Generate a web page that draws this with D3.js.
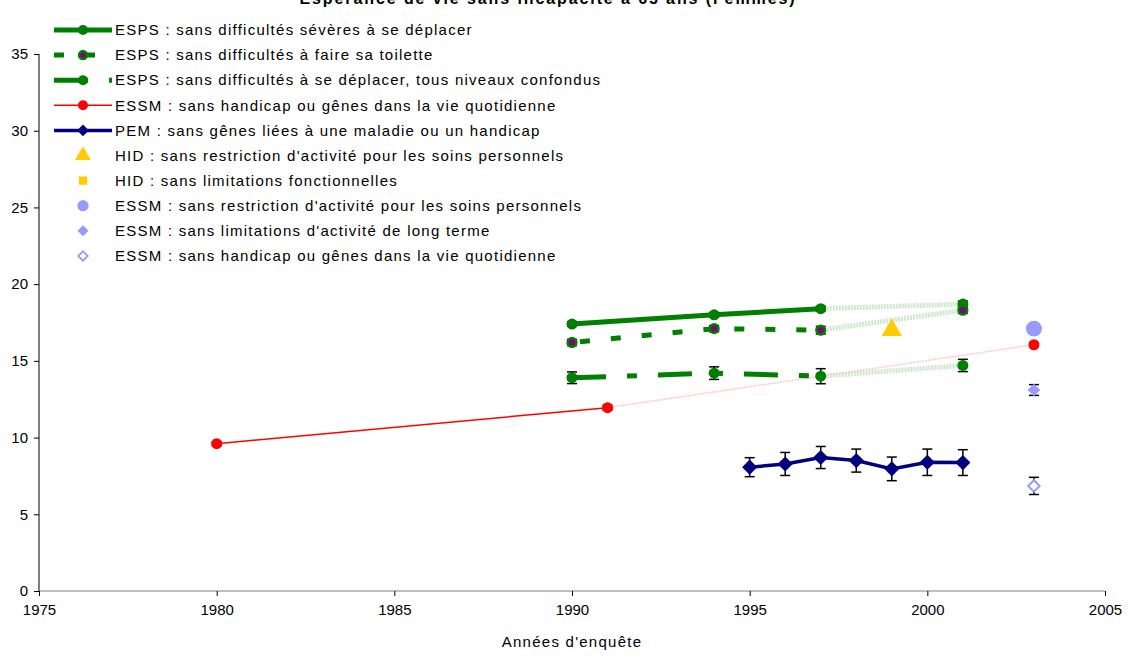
<!DOCTYPE html>
<html>
<head>
<meta charset="utf-8">
<script src="https://cdn.jsdelivr.net/npm/d3@7"></script>
<style>
  html, body { margin: 0; padding: 0; background: #fff; }
  svg { display: block; font-family: "Liberation Sans", Arial, sans-serif; }
</style>
</head>
<body>
<svg id="chart" width="1134" height="666"></svg>
<script>
// ---- Data ----
const title = "Espérance de vie sans incapacité à 65 ans (Femmes)";
const xTitle = "Années d'enquête";
const xTicks = [1975, 1980, 1985, 1990, 1995, 2000, 2005];
const yTicks = [0, 5, 10, 15, 20, 25, 30, 35];

// ESPS surveys (last year is linked by a faint line only)
const espsYears = [1990, 1994, 1997, 2001];
const espsSevere = [17.4, 18.0, 18.4, 18.7];
const espsSevereErr = [0.15, 0.15, 0.15, 0.2];
const espsToilette = [16.2, 17.1, 17.0, 18.3];
const espsToiletteErr = [0.2, 0.2, 0.25, 0.2];
const espsAll = [13.9, 14.2, 14.0, 14.7];
const espsAllErr = [0.38, 0.41, 0.49, 0.4];

// ESSM: sans handicap ou gênes (last segment faint)
const essmYears = [1980, 1991, 2003];
const essmValues = [9.6, 11.95, 16.05];
const essmErr = [0.12, 0.15, 0.12];

// PEM
const pemYears = [1995, 1996, 1997, 1998, 1999, 2000, 2001];
const pemValues = [8.07, 8.28, 8.7, 8.5, 7.96, 8.39, 8.37];
const pemErr = [0.62, 0.75, 0.72, 0.75, 0.77, 0.86, 0.84];

// Single-year estimates
const hidYears = [1999];
const hidSoins = [17.0];
const essmSoinsYears = [2003];
const essmSoins = [17.1];
const essmLongYears = [2003];
const essmLong = [13.1];
const essmLongErr = [0.35];
const essmGenesYears = [2003];
const essmGenes = [6.85];
const essmGenesErr = [0.56];

const legendLabels = [
  "ESPS : sans difficultés sévères à se déplacer",
  "ESPS : sans difficultés à faire sa toilette",
  "ESPS : sans difficultés à se déplacer, tous niveaux confondus",
  "ESSM : sans handicap ou gênes dans la vie quotidienne",
  "PEM : sans gênes liées à une maladie ou un handicap",
  "HID : sans restriction d'activité pour les soins personnels",
  "HID : sans limitations fonctionnelles",
  "ESSM : sans restriction d'activité pour les soins personnels",
  "ESSM : sans limitations d'activité de long terme",
  "ESSM : sans handicap ou gênes dans la vie quotidienne"
];

// ---- Layout ----
const svg = d3.select("#chart");
const x = d3.scaleLinear().domain([1975, 2005]).range([39, 1105]);
const y = d3.scaleLinear().domain([0, 35]).range([591, 54]);

const GREEN = "#008000", FAINT_GREEN = "#cfe7cf", RED = "#ff0000", PINK = "#ffc6c6",
      NAVY = "#000080", GOLD = "#ffcc00", LAV = "#9999ff", PURPLE = "#800080";
const TEXT_SPACING = "1.25px";

// Title (partly above the visible area)
svg.append("text").attr("x", 548).attr("y", 4).attr("text-anchor", "middle")
  .attr("font-size", 16).attr("font-weight", "bold").attr("letter-spacing", "1.9px").text(title);

// Axes
const yAxis = d3.axisLeft(y).tickValues(yTicks).tickSize(5).tickPadding(6).tickFormat(d3.format("d"));
const gy = svg.append("g").attr("transform", `translate(${x(1975)},0)`).call(yAxis);
gy.select(".domain").attr("stroke", "#000").attr("d", `M0,${y(0)}V${y(35)}`);
gy.selectAll("text").attr("font-size", 15).attr("fill", "#000").attr("font-family", "Liberation Sans, Arial, sans-serif");

const xAxis = d3.axisBottom(x).tickValues(xTicks).tickSize(5).tickPadding(8).tickFormat(d3.format("d"));
const gx = svg.append("g").attr("transform", `translate(0,${y(0)})`).call(xAxis);
gx.select(".domain").attr("stroke", "#808080").attr("d", `M${x(1975)},0H${x(2005)}`);
gx.selectAll("line").attr("stroke", "#000");
gx.selectAll("text").attr("font-size", 15).attr("fill", "#000").attr("font-family", "Liberation Sans, Arial, sans-serif");

svg.append("text").attr("x", x(1990)).attr("y", 647).attr("text-anchor", "middle")
  .attr("font-size", 15).attr("letter-spacing", TEXT_SPACING).text(xTitle);

const line = d3.line().x(d => x(d[0])).y(d => y(d[1]));
const zip = (a, b) => a.map((v, i) => [v, b[i]]);

const plot = svg.append("g");

// Faint links to later surveys
[espsSevere, espsToilette, espsAll].forEach(vals => {
  plot.append("path").attr("d", line(zip(espsYears, vals).slice(2)))
    .attr("fill", "none").attr("stroke", FAINT_GREEN).attr("stroke-width", 5)
    .attr("stroke-dasharray", "2,1");
});
plot.append("path").attr("d", line(zip(essmYears, essmValues).slice(1)))
  .attr("fill", "none").attr("stroke", PINK).attr("stroke-width", 1.5)
  .attr("stroke-dasharray", "2,1");

// Main series lines
plot.append("path").attr("d", line(zip(espsYears, espsSevere).slice(0, 3)))
  .attr("fill", "none").attr("stroke", GREEN).attr("stroke-width", 5);
plot.append("path").attr("d", line(zip(espsYears, espsToilette).slice(0, 3)))
  .attr("fill", "none").attr("stroke", GREEN).attr("stroke-width", 5).attr("stroke-dasharray", "10,21")
  .attr("stroke-dashoffset", -8);
plot.append("path").attr("d", line(zip(espsYears, espsAll).slice(0, 3)))
  .attr("fill", "none").attr("stroke", GREEN).attr("stroke-width", 5).attr("stroke-dasharray", "34,21,10,21");
plot.append("path").attr("d", line(zip(essmYears, essmValues).slice(0, 2)))
  .attr("fill", "none").attr("stroke", RED).attr("stroke-width", 1.5);
plot.append("path").attr("d", line(zip(pemYears, pemValues)))
  .attr("fill", "none").attr("stroke", NAVY).attr("stroke-width", 3.5);

// Error bars
function errorBars(years, vals, errs) {
  const g = plot.append("g").attr("stroke", "#000").attr("stroke-width", 1.5);
  years.forEach((yr, i) => {
    const cx = x(yr), y1 = y(vals[i] - errs[i]), y2 = y(vals[i] + errs[i]);
    g.append("line").attr("x1", cx).attr("x2", cx).attr("y1", y1).attr("y2", y2);
    g.append("line").attr("x1", cx - 5).attr("x2", cx + 5).attr("y1", y1).attr("y2", y1);
    g.append("line").attr("x1", cx - 5).attr("x2", cx + 5).attr("y1", y2).attr("y2", y2);
  });
}
errorBars(espsYears, espsSevere, espsSevereErr);
errorBars(espsYears, espsToilette, espsToiletteErr);
errorBars(espsYears, espsAll, espsAllErr);
errorBars(essmYears, essmValues, essmErr);
errorBars(pemYears, pemValues, pemErr);
errorBars(essmLongYears, essmLong, essmLongErr);
errorBars(essmGenesYears, essmGenes, essmGenesErr);

// Markers; diamonds are squares turned by 45°
const sym = (type, size) => d3.symbol().type(type === "diamond" ? d3.symbolSquare : type).size(size)();
const rot = type => type === "diamond" ? " rotate(45)" : "";
function markers(years, vals, type, size, fill, stroke, sw) {
  plot.append("g").selectAll("path").data(zip(years, vals)).join("path")
    .attr("transform", d => `translate(${x(d[0])},${y(d[1])})${rot(type)}`)
    .attr("d", sym(type, size))
    .attr("fill", fill).attr("stroke", stroke || "none").attr("stroke-width", sw || 0);
}
markers(espsYears, espsSevere, d3.symbolCircle, 95, GREEN);
markers(espsYears, espsToilette, d3.symbolCircle, 60, PURPLE, GREEN, 2.5);
markers(espsYears, espsAll, d3.symbolCircle, 95, GREEN);
markers(essmYears, essmValues, d3.symbolCircle, 95, RED);
markers(pemYears, pemValues, "diamond", 115, NAVY);
markers(hidYears, hidSoins, d3.symbolTriangle, 180, GOLD);
markers(essmSoinsYears, essmSoins, d3.symbolCircle, 200, LAV);
markers(essmLongYears, essmLong, "diamond", 80, LAV);
markers(essmGenesYears, essmGenes, "diamond", 64, "#fff", LAV, 2);

// ---- Legend ----
const legend = svg.append("g");
const rowY = i => 30 + i * 25.1;
const lx0 = 54, lx1 = 112, mx = 83, tx = 115;
const styles = [
  { dash: null, sw: 5, color: GREEN, m: d3.symbolCircle, ms: 80, fill: GREEN },
  { dash: "10,21", sw: 5, color: GREEN, m: d3.symbolCircle, ms: 50, fill: PURPLE, mstroke: GREEN, msw: 2.5 },
  { dash: "34,21,10,21", sw: 5, color: GREEN, m: d3.symbolCircle, ms: 80, fill: GREEN },
  { dash: null, sw: 1.5, color: RED, m: d3.symbolCircle, ms: 80, fill: RED },
  { dash: null, sw: 3.5, color: NAVY, m: "diamond", ms: 70, fill: NAVY },
  { m: d3.symbolTriangle, ms: 110, fill: GOLD },
  { m: d3.symbolSquare, ms: 70, fill: GOLD },
  { m: d3.symbolCircle, ms: 100, fill: LAV },
  { m: "diamond", ms: 60, fill: LAV },
  { m: "diamond", ms: 45, fill: "#fff", mstroke: LAV, msw: 1.8 }
];
legendLabels.forEach((label, i) => {
  const s = styles[i], ry = rowY(i);
  const row = legend.append("g");
  if (s.color) {
    row.append("line").attr("x1", lx0).attr("x2", lx1).attr("y1", ry).attr("y2", ry)
      .attr("stroke", s.color).attr("stroke-width", s.sw)
      .attr("stroke-dasharray", s.dash);
  }
  row.append("path").attr("transform", `translate(${mx},${ry})${rot(s.m)}`).attr("d", sym(s.m, s.ms))
    .attr("fill", s.fill).attr("stroke", s.mstroke || "none").attr("stroke-width", s.msw || 0);
  row.append("text").attr("x", tx).attr("y", ry).attr("dy", "0.35em")
    .attr("font-size", 15).attr("letter-spacing", TEXT_SPACING).text(label);
});
</script>
</body>
</html>
